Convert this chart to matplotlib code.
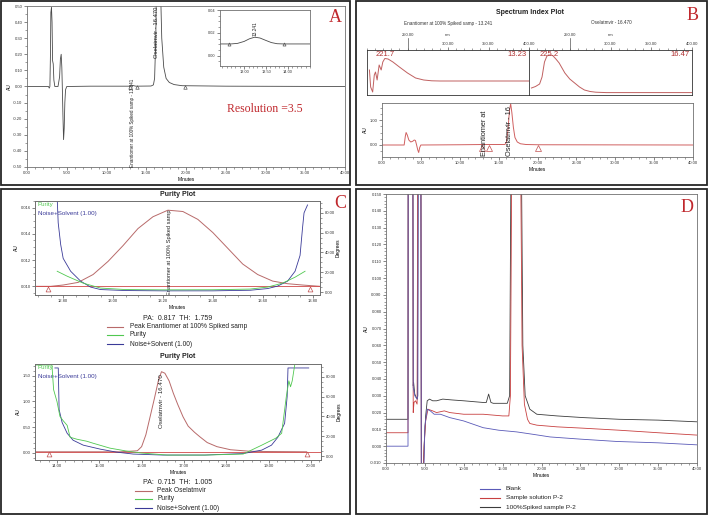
import matplotlib
matplotlib.use('Agg')
import matplotlib.pyplot as plt
from matplotlib.lines import Line2D
from matplotlib.patches import Rectangle
from matplotlib.ticker import MultipleLocator, FormatStrFormatter, FixedLocator

plt.rcParams['font.family'] = ['Liberation Sans', 'DejaVu Sans']

# ---------------- data ----------------
# Panel A: chromatogram
chromA_t = [0.0, 2.7, 2.8, 2.88, 2.95, 3.0, 3.08, 3.15, 3.22, 3.3, 3.38, 3.5, 3.9, 4.1, 4.2, 4.3, 4.38, 4.45, 4.52, 4.6,
            4.68, 4.76, 4.85, 5.0, 8.0, 12.8, 13.24, 13.7, 15.6, 15.9, 16.05, 16.2, 16.35, 16.47, 16.6, 16.75, 16.95, 17.2,
            17.5, 17.9, 18.5, 19.5, 25.0, 40.0]
chromA_au = [0.0, 0.0, -0.01, 0.0, 0.2, 0.46, 0.49, 0.4, 0.16, 0.14, 0.04, 0.0, 0.0, 0.06, 0.17, 0.2, 0.12, -0.02, -0.18,
             -0.33, -0.26, -0.1, -0.02, 0.0, 0.002, 0.002, 0.007, 0.002, 0.003, 0.01, 0.05, 0.3, 0.9, 1.5, 1.3, 0.7, 0.3,
             0.12, 0.05, 0.025, 0.012, 0.005, 0.002, 0.0]
markA_t = [12.9, 13.8, 19.9]
markA_au = [0.0, 0.0, 0.0]
insetA_t = [12.45, 12.7, 12.85, 13.0, 13.12, 13.24, 13.36, 13.5, 13.62, 13.75, 13.9, 14.5]
insetA_au = [0.0103, 0.0103, 0.0108, 0.0125, 0.0148, 0.0162, 0.0155, 0.0133, 0.0115, 0.0105, 0.0103, 0.0103]
insetMark_t = [12.65, 13.9]
insetMark_au = [0.0103, 0.0103]
resolution_text = "Resolution =3.5"

# Panel B: spectra and chromatogram
specL_nm = [203, 204.5, 207, 209, 210.5, 212.5, 215, 217.5, 219.5, 222, 226, 232, 240, 250, 260, 270, 280, 290, 400]
specL_val = [25, 8, 3, 20, 23, 15, 30, 25, 33, 36.5, 36, 33, 28, 22, 17, 15, 14.2, 14, 14]
specR_nm = [203, 208, 213, 216, 219, 222, 225, 229, 233, 237, 244, 250, 256, 262, 268, 275, 282, 295, 400]
specR_val = [7, 8.5, 11, 18, 33, 39, 40, 39.5, 36, 32, 22, 16, 12, 8, 5, 3.5, 2.8, 2.4, 2.4]
chromB_t = [0, 2.85, 3.0, 3.1, 3.25, 3.45, 3.7, 3.95, 4.15, 4.3, 4.45, 4.6, 4.72, 4.85, 5.0, 10, 13.2, 15.8, 16.0, 16.2,
            16.4, 16.55, 16.7, 16.9, 17.1, 17.4, 17.8, 18.5, 20, 40]
chromB_au = [0, 0, 0.35, 0.5, 0.4, 0.2, 0.12, 0.15, 0.2, 0.18, 0.0, -0.2, -0.3, -0.1, 0, 0.01, 0.02, 0.02, 0.1, 0.6,
             1.4, 1.65, 1.3, 0.7, 0.3, 0.12, 0.05, 0.02, 0.01, 0.0]
markB_t = [12.9, 13.8, 20.0]
markB_au = [-0.12, -0.12, -0.12]

# Panel C upper: purity plot enantiomer
peakE_t = [12.69, 12.75, 12.80, 12.86, 12.92, 12.98, 13.04, 13.10, 13.16, 13.22, 13.28, 13.34, 13.40, 13.46, 13.52,
           13.58, 13.64, 13.70, 13.76, 13.83]
peakE_au = [0.0100, 0.0100, 0.0101, 0.0103, 0.0109, 0.0119, 0.0131, 0.0144, 0.0153, 0.0158, 0.0157, 0.0151, 0.0141,
            0.0129, 0.0117, 0.0109, 0.0104, 0.0102, 0.0101, 0.0100]
baseE_t = [12.69, 13.83]
baseE_au = [0.0100, 0.0100]
noiseE_t = [12.776, 12.78, 12.79, 12.80, 12.83, 12.87, 12.91, 12.95, 13.05, 13.2, 13.4, 13.55, 13.62, 13.66, 13.70,
            13.73, 13.75, 13.76, 13.766, 13.78]
noiseE_deg = [95, 70, 48, 34, 21, 11, 5, 2.5, 1.5, 1.2, 1.2, 1.8, 3.5, 6, 11, 21, 37, 65, 80, 88]
purityE_t = [12.776, 12.816, 12.88, 12.95, 13.05, 13.2, 13.4, 13.55, 13.62, 13.68, 13.73, 13.77]
purityE_deg = [21, 16, 9, 4, 2.5, 2.2, 2.3, 3, 5, 9, 15, 21]
markE_t = [12.74, 13.79]
markE_au = [0.0098, 0.0098]

# Panel C lower: purity plot oseltamivir
peakO_t = [13.48, 15.0, 15.5, 15.9, 16.0, 16.1, 16.2, 16.3, 16.4, 16.47, 16.55, 16.65, 16.75, 16.85, 16.98, 17.1, 17.25,
           17.38, 17.55, 17.78, 18.1, 18.56, 19.0, 19.9]
peakO_au = [0.02, 0.02, 0.02, 0.04, 0.12, 0.35, 0.70, 1.05, 1.42, 1.58, 1.55, 1.40, 1.16, 0.95, 0.70, 0.52, 0.40, 0.31,
            0.2, 0.12, 0.06, 0.03, 0.025, 0.02]
baseO_t = [13.48, 20.24]
baseO_au = [0.02, 0.02]
noiseO_t = [13.95, 14.03, 14.05, 14.12, 14.24, 14.38, 14.62, 15.02, 15.4, 15.8, 16.5, 17.5, 18.4, 18.84, 19.07, 19.22,
            19.38, 19.44, 19.46, 19.95]
noiseO_deg = [89, 89, 47, 34, 23, 16, 11, 7, 4, 2, 1, 1, 2.5, 6, 11, 19, 33, 60, 89, 89]
purityO_t = [13.5, 13.88, 13.92, 14.0, 14.07, 14.14, 14.24, 14.31, 14.47, 14.7, 14.85, 15.25, 15.65, 16.0, 16.6, 17.5,
             18.4, 18.84, 19.17, 19.31, 19.42, 19.48, 19.52, 19.56, 19.6, 19.63]
purityO_deg = [92, 92, 67, 55, 40, 36, 31, 19, 17, 15, 13, 8, 5, 3, 1, 1, 2, 11, 18, 23, 60, 76, 70, 76, 87, 95]
markO_t = [13.82, 19.9]
markO_au = [-0.02, -0.02]

# Panel D: overlay
blank_t = [0, 2.83, 2.87, 3.0, 3.3, 3.42, 3.5, 3.7, 4.0, 4.1, 4.2, 4.35, 4.45, 4.55, 4.65, 4.85, 5.0, 5.3, 5.7, 6.2,
           7.0, 8.2, 10.0, 12.5, 14.5, 16.8, 19.0, 21.1, 25.0, 29.7, 35.0, 40.0]
blank_v = [0.0, 0.0, 0.3, 0.6, 0.6, 0.3, 0.035, 0.03, 0.028, 0.03, 0.3, 0.6, 0.3, -0.05, -0.05, -0.02, 0.012, 0.022,
           0.021, 0.019, 0.019, 0.017, 0.015, 0.011, 0.0095, 0.0085, 0.007, 0.0055, 0.0042, 0.0028, 0.002, 0.0008]
sample_t = [0, 2.83, 2.87, 3.0, 3.3, 3.42, 3.5, 3.6, 3.8, 4.0, 4.15, 4.3, 4.45, 4.55, 4.7, 4.9, 5.1, 5.4, 6.0, 6.5,
            7.5, 8.2, 10.0, 12.5, 15.0, 15.8, 16.0, 16.15, 16.4, 16.75, 17.1, 17.35, 17.5, 17.8, 18.2, 18.5, 19.4, 22.0,
            25.4, 30.0, 35.0, 40.0]
sample_v = [0.008, 0.008, 0.3, 0.6, 0.6, 0.3, 0.020, 0.026, 0.027, 0.025, 0.3, 0.6, 0.3, -0.03, -0.03, 0.0, 0.015,
            0.022, 0.021, 0.020, 0.021, 0.020, 0.019, 0.019, 0.018, 0.018, 0.03, 0.15, 0.8, 1.5, 0.8, 0.15, 0.06, 0.025,
            0.016, 0.0135, 0.0125, 0.0115, 0.0107, 0.0095, 0.008, 0.0066]
spiked_t = [0, 2.83, 2.87, 3.0, 3.3, 3.42, 3.5, 3.55, 3.7, 3.9, 4.05, 4.2, 4.35, 4.45, 4.55, 4.7, 4.9, 5.1, 5.3, 5.6,
            6.0, 6.5, 7.3, 8.5, 10.0, 12.5, 12.9, 13.2, 13.5, 13.8, 15.6, 15.9, 16.05, 16.3, 16.75, 17.2, 17.45, 17.6,
            17.9, 18.5, 19.4, 22.0, 25.4, 30.0, 35.0, 40.0]
spiked_v = [0.016, 0.016, 0.3, 0.6, 0.6, 0.3, 0.036, 0.038, 0.031, 0.029, 0.028, 0.3, 0.6, 0.3, -0.03, -0.03, 0.0,
            0.018, 0.027, 0.028, 0.027, 0.027, 0.028, 0.0275, 0.027, 0.026, 0.026, 0.031, 0.026, 0.0255, 0.0255, 0.03,
            0.15, 0.8, 1.5, 0.8, 0.15, 0.06, 0.03, 0.022, 0.019, 0.018, 0.017, 0.016, 0.0155, 0.0145]
legendD = ["Blank", "Sample solution P-2", "100%Spiked sample P-2"]

# ---------------- layout helpers ----------------
W, H = 709, 516
fig = plt.figure(figsize=(W / 100, H / 100), dpi=100)
RED = '#c0282d'
PEAKC = '#b86a6a'
GREEN = '#50c850'
BLUE = '#3a3a98'


def axpx(x0, y0, x1, y1):
    return fig.add_axes([x0 / W, 1 - y1 / H, (x1 - x0) / W, (y1 - y0) / H])


def ftext(x, y, s, **kw):
    kw.setdefault('ha', 'center')
    kw.setdefault('va', 'center')
    fig.text(x / W, 1 - y / H, s, **kw)


def fline(x0, x1, y, color):
    fig.add_artist(Line2D([x0 / W, x1 / W], [1 - y / H, 1 - y / H], color=color, lw=0.8,
                          transform=fig.transFigure))


def frame(x0, y0, x1, y1):
    fig.add_artist(Rectangle((x0 / W, 1 - y1 / H), (x1 - x0) / W, (y1 - y0) / H, fill=False,
                             ec='#262626', lw=1.3, transform=fig.transFigure))


def style(ax, fs=3.0, spc='#707070'):
    for sp in ax.spines.values():
        sp.set_color(spc)
        sp.set_linewidth(0.6)
    ax.tick_params(which='major', labelsize=fs, length=2.2, width=0.5, pad=1, color='#555', labelcolor='#333')
    ax.tick_params(which='minor', length=1.2, width=0.4, color='#555')


def fmt(ax, xf='%.2f', yf='%.2f'):
    ax.xaxis.set_major_formatter(FormatStrFormatter(xf))
    ax.yaxis.set_major_formatter(FormatStrFormatter(yf))


# panel frames
frame(1, 1, 350, 185)
frame(356, 1, 707, 185)
frame(1, 189, 350, 514)
frame(356, 189, 707, 514)

# ---------------- Panel A ----------------
axA = axpx(27, 6, 345, 167)
axA.plot(chromA_t, chromA_au, color='#4a4a4a', lw=0.6)
axA.plot(markA_t, markA_au, ls='none', marker='^', mfc='none', mec='#555', ms=2.5, mew=0.5)
axA.set_xlim(0, 40)
axA.set_ylim(-0.5, 0.5)
axA.xaxis.set_major_locator(MultipleLocator(5))
axA.xaxis.set_minor_locator(MultipleLocator(1))
axA.yaxis.set_major_locator(MultipleLocator(0.1))
axA.yaxis.set_minor_locator(MultipleLocator(0.05))
fmt(axA)
style(axA)
axA.set_xlabel('Minutes', fontsize=3.5, labelpad=1)
axA.set_ylabel('AU', fontsize=3.5, labelpad=1)
axA.text(13.24, -0.5, 'Enantiomer at 100% Spiked samp - 13.241', rotation=90, ha='center', va='bottom',
         fontsize=3.3, color='#222')
axA.text(16.25, 0.495, 'Oselatmvir - 16.470', rotation=90, ha='center', va='top', fontsize=4.2, color='#222')
ftext(265, 109, resolution_text, family='Liberation Serif', fontsize=8.5, color=RED)
ftext(335, 17, 'A', family='Liberation Serif', fontsize=13, color=RED)

axI = axpx(220, 10, 310, 66)
axI.plot(insetA_t, insetA_au, color='#4a4a4a', lw=0.6)
axI.plot(insetMark_t, insetMark_au, ls='none', marker='^', mfc='none', mec='#555', ms=2.2, mew=0.5)
axI.set_xlim(12.45, 14.5)
axI.set_ylim(-0.009, 0.04)
axI.xaxis.set_major_locator(FixedLocator([13.0, 13.5, 14.0]))
axI.xaxis.set_minor_locator(MultipleLocator(0.1))
axI.yaxis.set_major_locator(FixedLocator([0.0, 0.02, 0.04]))
axI.yaxis.set_minor_locator(MultipleLocator(0.005))
fmt(axI)
style(axI, fs=2.8)
axI.text(13.24, 0.0175, '13.241', rotation=90, ha='center', va='bottom', fontsize=3.4, color='#222')

# ---------------- Panel B ----------------
ftext(530, 12, 'Spectrum Index Plot', fontsize=5, weight='bold', color='#222')
ftext(448, 23, 'Enantiomer at 100% Spiked samp - 13.241', fontsize=3.3, color='#333')
ftext(611, 23, 'Oselatmvir - 16.470', fontsize=3.3, color='#333')
ftext(693, 16, 'B', family='Liberation Serif', fontsize=13, color=RED)

spec_axes = []
for (x0, x1), nm, val, lab, ret in [((367, 529), specL_nm, specL_val, '221.7', '13.23'),
                                    ((529, 692), specR_nm, specR_val, '225.2', '16.47')]:
    ax = axpx(x0, 50, x1, 95)
    ax.plot(nm, val, color='#c06060', lw=0.7)
    ax.set_xlim(200, 400)
    ax.set_ylim(0, 45)
    ax.set_yticks([])
    ax.xaxis.tick_top()
    ax.xaxis.set_major_locator(FixedLocator([300, 350, 400]))
    ax.xaxis.set_minor_locator(MultipleLocator(10))
    ax.xaxis.set_major_formatter(FormatStrFormatter('%.2f'))
    style(ax, fs=3.0, spc='#333')
    ax.tick_params(axis='x', which='major', pad=0.5)
    tr = ax.get_xaxis_transform()
    ax.plot([250, 250], [1.0, 1.27], transform=tr, clip_on=False, color='#555', lw=0.5)
    ax.text(250, 1.30, '250.00', transform=tr, fontsize=3.0, ha='center', va='bottom', color='#333')
    ax.text(300, 1.30, 'nm', transform=tr, fontsize=3.0, ha='center', va='bottom', color='#333')
    pk = nm[val.index(max(val))]
    ax.text(pk, 41, lab, fontsize=5.5, color='#b03030', ha='center', va='center')
    ax.text(397, 41, ret, fontsize=5.5, color='#b03030', ha='right', va='center')
    spec_axes.append(ax)

axB = axpx(382, 103, 693, 157)
axB.plot(chromB_t, chromB_au, color='#d06060', lw=0.7)
axB.plot(markB_t, markB_au, ls='none', marker='^', mfc='none', mec='#c05050', ms=4, mew=0.5)
axB.set_xlim(0, 40)
axB.set_ylim(-0.48, 1.68)
axB.xaxis.set_major_locator(MultipleLocator(5))
axB.xaxis.set_minor_locator(MultipleLocator(1))
axB.yaxis.set_major_locator(FixedLocator([0.0, 1.0]))
axB.yaxis.set_minor_locator(MultipleLocator(0.25))
fmt(axB)
style(axB)
axB.set_xlabel('Minutes', fontsize=3.5, labelpad=1)
axB.set_ylabel('AU', fontsize=3.5, labelpad=1)
axB.text(13.2, -0.45, 'Enantiomer at', rotation=90, ha='center', va='bottom',
         fontsize=5.3, color='#222', clip_on=True)
axB.text(16.45, -0.45, 'Oselatmvir - 16', rotation=90, ha='center', va='bottom', fontsize=5.3,
         color='#222', clip_on=True)

# ---------------- Panel C upper ----------------
ftext(178, 194, 'Purity Plot', fontsize=5, weight='bold', color='#222')
ftext(340, 203, 'C', family='Liberation Serif', fontsize=13, color=RED)
axC1 = axpx(35, 201, 320, 295)
axC1.plot(peakE_t, peakE_au, color=PEAKC, lw=0.7)
axC1.plot(baseE_t, baseE_au, color='#d04848', lw=0.6)
axC1.plot(markE_t, markE_au, ls='none', marker='^', mfc='none', mec='#c05050', ms=3.5, mew=0.5)
axC1.set_xlim(12.687, 13.83)
axC1.set_ylim(0.00934, 0.0165)
axC1.xaxis.set_major_locator(FixedLocator([12.8, 13.0, 13.2, 13.4, 13.6, 13.8]))
axC1.xaxis.set_minor_locator(MultipleLocator(0.05))
axC1.yaxis.set_major_locator(FixedLocator([0.010, 0.012, 0.014, 0.016]))
axC1.yaxis.set_minor_locator(MultipleLocator(0.0005))
fmt(axC1, yf='%.3f')
style(axC1)
axC1.set_xlabel('Minutes', fontsize=3.5, labelpad=1)
axC1.set_ylabel('AU', fontsize=3.5, labelpad=1)
axC1r = axC1.twinx()
axC1r.plot(noiseE_t, noiseE_deg, color=BLUE, lw=0.6)
axC1r.plot(purityE_t, purityE_deg, color=GREEN, lw=0.6)
axC1r.set_ylim(-3, 92)
axC1r.yaxis.set_major_locator(FixedLocator([0, 20, 40, 60, 80]))
axC1r.yaxis.set_minor_locator(MultipleLocator(5))
axC1r.yaxis.set_major_formatter(FormatStrFormatter('%.2f'))
style(axC1r)
axC1r.set_ylabel('Degrees', fontsize=3.5, labelpad=1)
axC1.text(13.225, 0.00936, 'Enantiomer at 100% Spiked samp', rotation=90, ha='center', va='bottom',
          fontsize=4.1, color='#222', clip_on=True)
axC1.text(0.01, 0.968, 'Purity', transform=axC1.transAxes, fontsize=4.5, color=GREEN, va='center')
axC1.text(0.01, 0.872, 'Noise+Solvent (1.00)', transform=axC1.transAxes, fontsize=4.5, color=BLUE, va='center')
ftext(178, 318, 'PA:  0.817  TH:  1.759', fontsize=5, color='#222')
for yy, col, lab in [(327, PEAKC, 'Peak Enantiomer at 100% Spiked samp'), (335, GREEN, 'Purity'),
                     (344, BLUE, 'Noise+Solvent (1.00)')]:
    fline(107, 123, yy, col)
    ftext(130, yy, lab, fontsize=4.8, ha='left', color='#222')

# ---------------- Panel C lower ----------------
ftext(178, 357, 'Purity Plot', fontsize=5, weight='bold', color='#222')
axC2 = axpx(35, 364, 321, 460)
axC2.plot(peakO_t, peakO_au, color=PEAKC, lw=0.7)
axC2.plot(baseO_t, baseO_au, color='#d04848', lw=0.6)
axC2.plot(markO_t, markO_au, ls='none', marker='^', mfc='none', mec='#c05050', ms=3.5, mew=0.5)
axC2.set_xlim(13.48, 20.24)
axC2.set_ylim(-0.14, 1.73)
axC2.xaxis.set_major_locator(MultipleLocator(1))
axC2.xaxis.set_minor_locator(MultipleLocator(0.2))
axC2.yaxis.set_major_locator(FixedLocator([0.0, 0.5, 1.0, 1.5]))
axC2.yaxis.set_minor_locator(MultipleLocator(0.1))
fmt(axC2)
style(axC2)
axC2.set_xlabel('Minutes', fontsize=3.5, labelpad=1)
axC2.set_ylabel('AU', fontsize=3.5, labelpad=1)
axC2r = axC2.twinx()
axC2r.plot(noiseO_t, noiseO_deg, color=BLUE, lw=0.6)
axC2r.plot(purityO_t, purityO_deg, color=GREEN, lw=0.6)
axC2r.set_ylim(-4, 93)
axC2r.yaxis.set_major_locator(FixedLocator([0, 20, 40, 60, 80]))
axC2r.yaxis.set_minor_locator(MultipleLocator(5))
axC2r.yaxis.set_major_formatter(FormatStrFormatter('%.2f'))
style(axC2r)
axC2r.set_ylabel('Degrees', fontsize=3.5, labelpad=1)
axC2.text(16.47, 1.53, 'Oselatmvir - 16.470', rotation=90, ha='center', va='top', fontsize=4.4, color='#222')
axC2.text(0.01, 0.968, 'Purity', transform=axC2.transAxes, fontsize=4.5, color=GREEN, va='center')
axC2.text(0.01, 0.872, 'Noise+Solvent (1.00)', transform=axC2.transAxes, fontsize=4.5, color=BLUE, va='center')
ftext(178, 482, 'PA:  0.715  TH:  1.005', fontsize=5, color='#222')
for yy, col, lab in [(491, PEAKC, 'Peak Oselatmvir'), (499, GREEN, 'Purity'), (508, BLUE, 'Noise+Solvent (1.00)')]:
    fline(135, 152, yy, col)
    ftext(157, yy, lab, fontsize=4.8, ha='left', color='#222')

# ---------------- Panel D ----------------
ftext(687, 207, 'D', family='Liberation Serif', fontsize=13, color=RED)
axD = axpx(386, 194, 697, 463)
axD.plot(spiked_t, spiked_v, color='#3c3c3c', lw=0.6)
axD.plot(sample_t, sample_v, color='#c84040', lw=0.6)
axD.plot(blank_t, blank_v, color='#5a5ab8', lw=0.6)
axD.set_xlim(0, 40)
axD.set_ylim(-0.010, 0.150)
axD.xaxis.set_major_locator(MultipleLocator(5))
axD.xaxis.set_minor_locator(MultipleLocator(1))
axD.yaxis.set_major_locator(MultipleLocator(0.01))
axD.yaxis.set_minor_locator(MultipleLocator(0.002))
fmt(axD, yf='%.3f')
style(axD)
axD.set_xlabel('Minutes', fontsize=3.5, labelpad=1)
axD.set_ylabel('AU', fontsize=3.5, labelpad=1)
for yy, col, lab in zip([489, 498, 507], ['#5a5ab8', '#c84040', '#3c3c3c'], legendD):
    fline(480, 500, yy, col)
    ftext(506, yy, lab, fontsize=4.6, ha='left', color='#222')

fig.savefig('out.png', dpi=100)
